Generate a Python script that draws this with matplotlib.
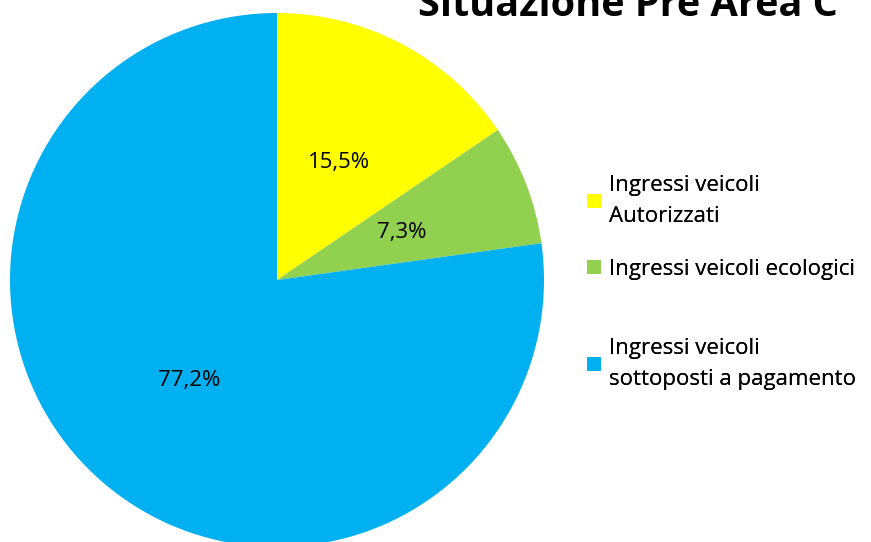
import matplotlib.pyplot as plt

plt.rcParams['font.family'] = ['Open Sans', 'DejaVu Sans']

labels = ['Ingressi veicoli\nAutorizzati',
          'Ingressi veicoli ecologici',
          'Ingressi veicoli\nsottoposti a pagamento']
values = [15.5, 7.3, 77.2]
colors = ['#FFFF00', '#92D050', '#00B0F0']
title = 'Situazione Pre Area C'

W, H = 871, 542
fig = plt.figure(figsize=(W / 100, H / 100), dpi=100)

# pie axes: centre ~ (277, 280) px, radius ~ 267 px
ax = fig.add_axes([10 / W, (H - 547) / H, 534 / W, 534 / H])
wedges, texts, autotexts = ax.pie(
    values, colors=colors, startangle=90, counterclock=False,
    autopct=lambda p: f'{p:.1f}%'.replace('.', ','), pctdistance=0.5,
    radius=1, wedgeprops=dict(linewidth=0),
    textprops=dict(fontsize=16, color='black'))
ax.set_xlim(-1, 1)
ax.set_ylim(-1, 1)
ax.set_aspect('equal')
ax.axis('off')
for w in wedges:
    w.set_clip_on(False)

fig.text(628 / W, 1 - 16 / H, title, ha='center', va='baseline',
         fontsize=28.5, fontweight='bold')

# legend entries placed like the Excel layout (uneven spacing)
ys = [201, 269, 364]
for w, lab, y in zip(wedges, labels, ys):
    leg = fig.legend([w], [lab], loc='center left',
                     bbox_to_anchor=(587 / W, 1 - y / H),
                     frameon=False, fontsize=16, handlelength=0.65,
                     handleheight=0.6, handletextpad=0.35,
                     borderpad=0, borderaxespad=0)
    for t in leg.get_texts():
        t.set_linespacing(1.6)
    fig.add_artist(leg)

fig.savefig('out.png', dpi=100)
